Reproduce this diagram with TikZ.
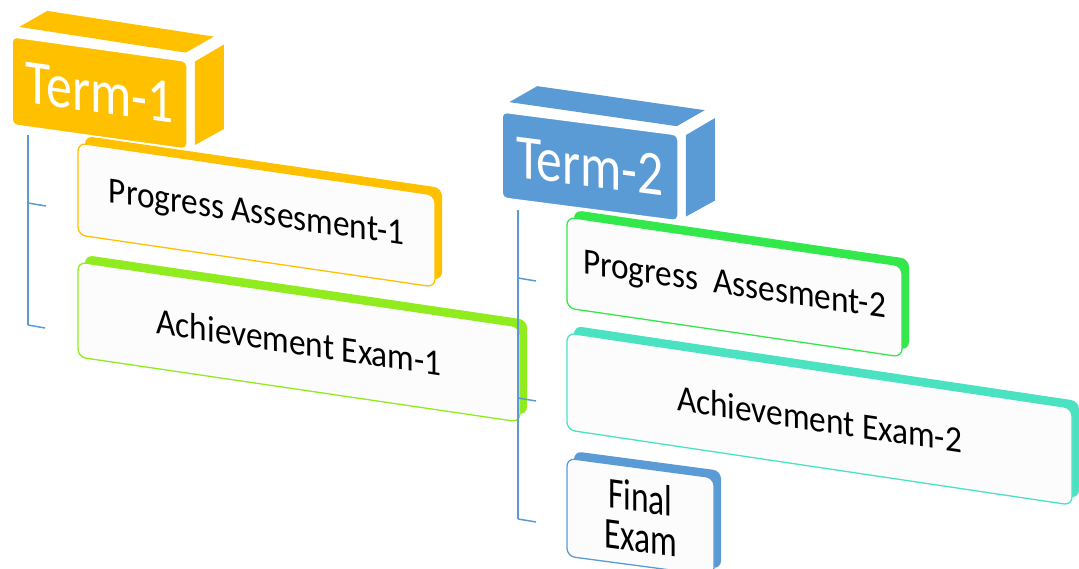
\documentclass[tikz,border=0pt]{standalone}
\usepackage{fontspec}
\newfontfamily\termfont[FakeStretch=0.82]{Carlito}
\newfontfamily\itemfont[FakeStretch=0.9]{Carlito}
\newfontfamily\finalfont[FakeStretch=0.76]{Carlito}
\usetikzlibrary{calc,shadows}
\definecolor{gold}{HTML}{FFC000}
\definecolor{steel}{HTML}{5B9BD5}
\definecolor{limeA}{HTML}{90EC1E}
\definecolor{grass}{HTML}{33E84A}
\definecolor{aqua}{HTML}{4BE2C2}
\definecolor{paper}{HTML}{FCFCFC}

\begin{document}
\begin{tikzpicture}[x=1pt,y=-1pt,
	term/.style={fill=#1,draw=white,line width=1.5pt,rounded corners=5pt,inner sep=0pt,text=white,font=\termfont\fontsize{63}{63}\selectfont},
	item/.style={draw=#1,fill=paper,line width=1.3pt,rounded corners=8pt,inner sep=0pt,
		general shadow={fill=#1,shadow xshift=7pt,shadow yshift=7pt},font=\itemfont\fontsize{37}{40}\selectfont},
	bracket/.style={draw=steel,line width=1.5pt}]

\useasboundingbox (0,0) rectangle (1079,568);

\node[item=gold,minimum width=357,minimum height=92,yslant=-0.146] (p1) at (256.5,215) {Progress Assesment-1};
\node[item=limeA,minimum width=442,minimum height=95,yslant=-0.147] (a1) at (299,342) {Achievement Exam-1};

\node[term=gold,minimum width=175,minimum height=88,yslant=-0.14] (t1) at (99.5,93) {Term-1};
\fill[gold] ($(t1.north west)+(8,-9)$) -- ++(28,-16) -- ($(t1.north east)+(26,-24)$) -- ($(t1.north east)+(-2,-8)$) -- cycle;
\fill[gold] ($(t1.north east)+(7,1)$) -- ++(29,-17) -- ($(t1.south east)+(36,-21)$) -- ($(t1.south east)+(7,-5)$) -- cycle;

\node[item=grass,minimum width=335,minimum height=91,yslant=-0.146] (p2) at (734.5,287) {Progress~~Assesment-2};
\node[item=aqua,minimum width=505,minimum height=97,yslant=-0.149] (a2) at (819.5,419) {Achievement Exam-2};
\node[item=steel,minimum width=147,minimum height=98,yslant=-0.133,align=center,font=\finalfont\fontsize{44}{40}\selectfont] (f2) at (640.5,517) {Final\\Exam};

\node[term=steel,minimum width=176,minimum height=86,yslant=-0.13] (t2) at (590,166.4) {Term-2};
\fill[steel] ($(t2.north west)+(8,-9)$) -- ++(28,-16) -- ($(t2.north east)+(26,-24)$) -- ($(t2.north east)+(-2,-8)$) -- cycle;
\fill[steel] ($(t2.north east)+(7,1)$) -- ++(29,-17) -- ($(t2.south east)+(36,-21)$) -- ($(t2.south east)+(7,-5)$) -- cycle;

\coordinate (l0) at (28,135);
\coordinate (l1) at (28,203);
\coordinate (l1e) at (46,206);
\coordinate (l2) at (28,325);
\coordinate (l2e) at (45,328);
\coordinate (r0) at (518,210);
\coordinate (r1) at (518,278);
\coordinate (r1e) at (536,281);
\coordinate (r2) at (518,398);
\coordinate (r2e) at (536,401);
\coordinate (r3) at (518,519);
\coordinate (r3e) at (536,522);

\path[bracket]
	(l0) edge (l2) (l1) edge (l1e) (l2) edge (l2e)
	(r0) edge (r3) (r1) edge (r1e) (r2) edge (r2e) (r3) edge (r3e);

\end{tikzpicture}
\end{document}
